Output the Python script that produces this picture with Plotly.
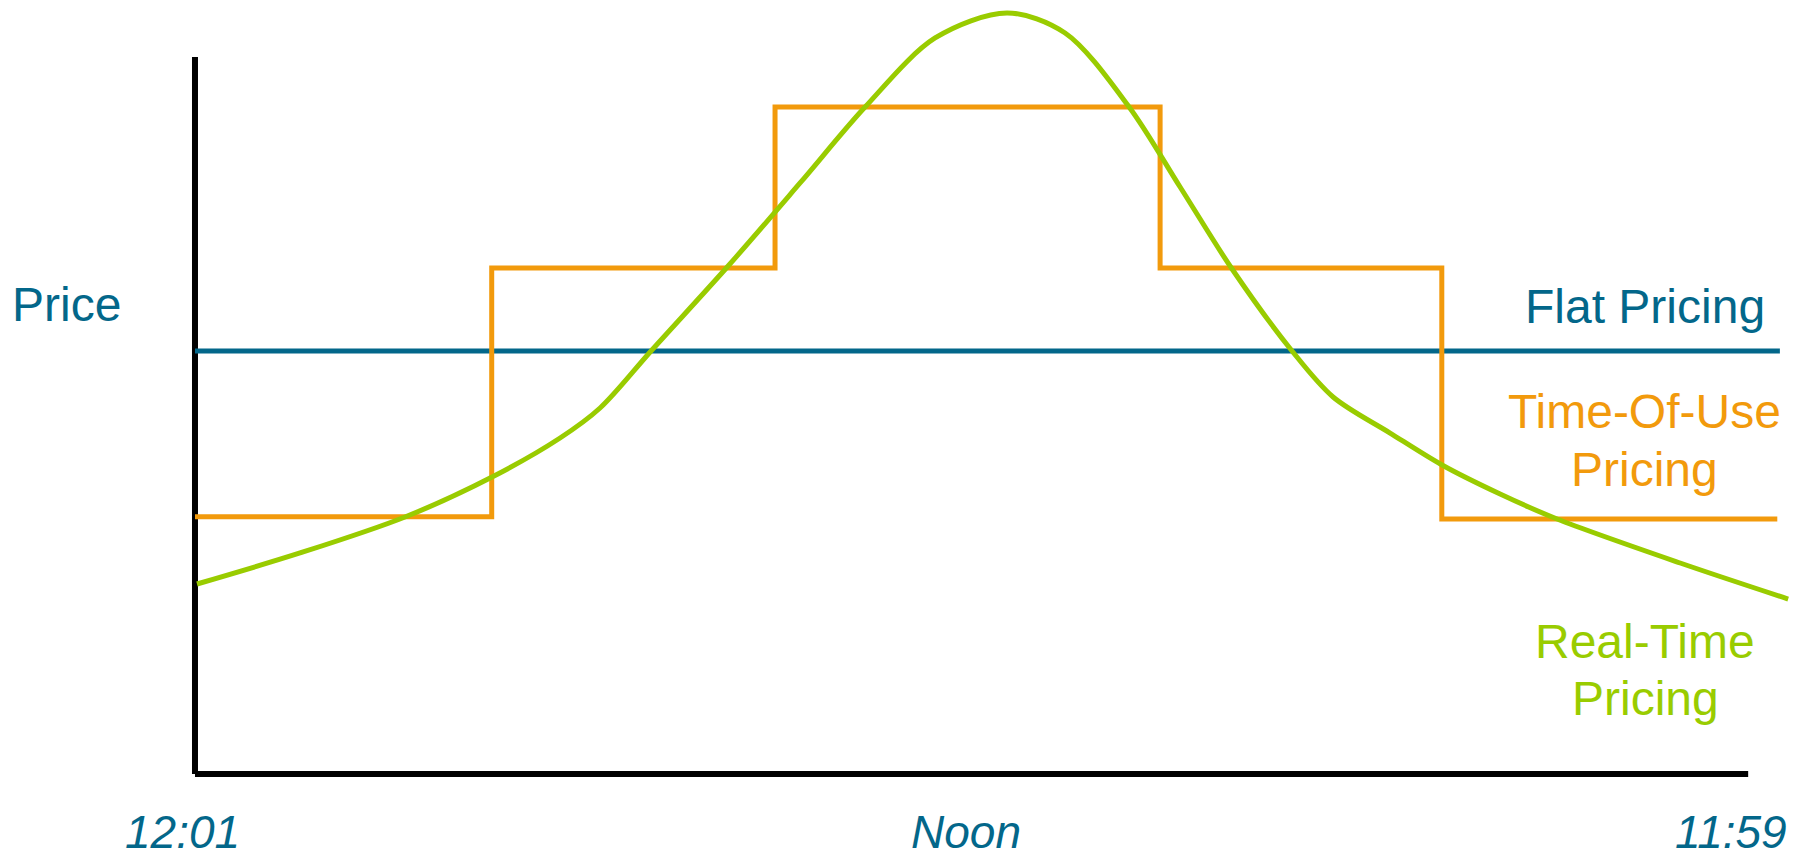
import plotly.graph_objects as go

# ---- data (hours after 12:01, relative price units) ----
flat_hours = [0, 24.49]
flat_price = [10, 10]

tou_hours = [0, 4.585, 8.963, 14.913, 19.266, 24.45]
tou_price = [6.08, 11.96, 15.77, 11.96, 6.03, 6.03]

rtp_hours = [0.031, 1.623, 3.245, 4.590, 5.641, 6.259, 7.047, 8.252, 9.350, 10.354,
             11.436, 12.548, 13.445, 14.434, 15.222, 16.025, 16.952, 17.586, 18.467,
             19.270, 20.167, 21.048, 22.949, 24.618]
rtp_price = [4.492, 5.225, 6.076, 7.021, 7.943, 8.652, 10.000, 12.033, 13.972, 15.768,
             17.400, 17.991, 17.518, 15.768, 13.877, 11.939, 10.000, 8.913, 8.061,
             7.305, 6.619, 6.028, 4.988, 4.137]

tick_hours = [-0.2, 11.92, 23.74]
tick_labels = ["12:01", "Noon", "11:59"]

TEAL = "#03678A"
ORANGE = "#F29A0C"
GREEN = "#99CC00"
FONT = "Liberation Sans, Arial, sans-serif"

fig = go.Figure()

# axes drawn as lines
fig.add_trace(go.Scatter(x=[0, 0], y=[0, 16.95], mode="lines",
                         line=dict(color="black", width=6), hoverinfo="skip"))
fig.add_trace(go.Scatter(x=[0, 24], y=[0, 0], mode="lines",
                         line=dict(color="black", width=6), hoverinfo="skip"))

fig.add_trace(go.Scatter(x=flat_hours, y=flat_price, mode="lines",
                         line=dict(color=TEAL, width=5), name="Flat Pricing"))
fig.add_trace(go.Scatter(x=tou_hours, y=tou_price, mode="lines",
                         line=dict(color=ORANGE, width=5, shape="hv"),
                         name="Time-Of-Use Pricing"))
fig.add_trace(go.Scatter(x=rtp_hours, y=rtp_price, mode="lines",
                         line=dict(color=GREEN, width=5, shape="spline", smoothing=0.9),
                         name="Real-Time Pricing"))

annotations = []
for h, t in zip(tick_hours, tick_labels):
    annotations.append(dict(x=h, y=-1.37, xref="x", yref="y", text=f"<i>{t}</i>",
                            showarrow=False, xanchor="center", yanchor="middle",
                            font=dict(family=FONT, size=46, color=TEAL)))

def label(x, y, text, color, size=48):
    annotations.append(dict(x=x, y=y, xref="x", yref="y", text=text,
                            showarrow=False, xanchor="center", yanchor="middle",
                            font=dict(family=FONT, size=size, color=color)))

label(-1.98, 11.09, "Price", TEAL)
label(22.41, 11.047, "Flat Pricing", TEAL)
label(22.40, 8.565, "Time-Of-Use", ORANGE)
label(22.40, 7.187, "Pricing", ORANGE)
label(22.41, 3.144, "Real-Time", GREEN)
label(22.41, 1.787, "Pricing", GREEN)

fig.update_layout(
    width=1798, height=860, autosize=False,
    margin=dict(l=0, r=0, t=0, b=0),
    paper_bgcolor="white", plot_bgcolor="white",
    showlegend=False,
    xaxis=dict(range=[-3.013, 24.77], visible=False, fixedrange=True),
    yaxis=dict(range=[-2.033, 18.298], visible=False, fixedrange=True),
    annotations=annotations,
)

fig.write_html(
    "out.html",
    config={"displayModeBar": False},
    post_script="document.body.style.margin='0';document.body.style.overflow='hidden';",
)
